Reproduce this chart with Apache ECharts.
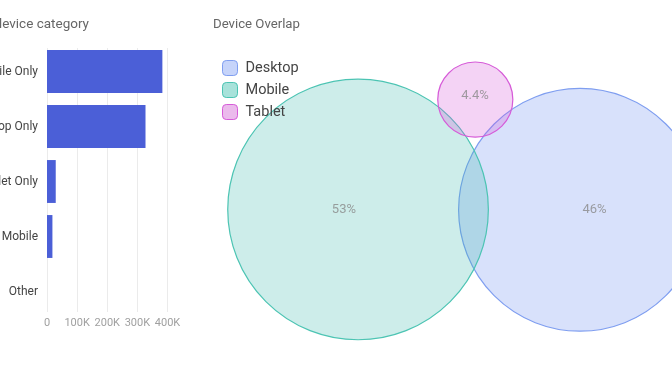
<!DOCTYPE html>
<html>
<head>
<meta charset="utf-8">
<script src="https://cdn.jsdelivr.net/npm/echarts@6/dist/echarts.min.js"></script>
<style>
html,body{margin:0;padding:0;background:#fff;}
#chart{width:672px;height:372px;}
</style>
</head>
<body>
<div id="chart"></div>
<script>
// ---- Bar chart data ----
const barTitle = 'Users by device category';
const barCategories = ['Mobile Only', 'Desktop Only', 'Tablet Only', 'Desktop + Mobile', 'Other'];
const barValues = [383000, 327000, 29000, 18000, 0];
const barTicks = [0, 100000, 200000, 300000, 400000];

// ---- Venn data ----
const vennTitle = 'Device Overlap';
const vennSets = ['Desktop', 'Mobile', 'Tablet'];
const vennPct = [46, 53, 4.4];
const vennCx = [21.23, 8.83, 15.38];
const vennCy = [9.06, 9.08, 15.22];
const vennLabelX = [22.04, 8.04, 15.36];
const vennLabelY = [9.05, 9.05, 15.42];
const vennColors = ['#6389ef', '#37b7ab', '#d44fd6'];
const vennStroke = ['#7f9ef0', '#4cc4b3', '#d65bd8'];
const vennSwatch = ['#c6d4fa', '#a8e2da', '#ebbaec'];

const chart = echarts.init(document.getElementById('chart'));
const font = 'Roboto, "Noto Sans", sans-serif';

const vennSeries = vennSets.map((name, i) => {
  const hex = vennColors[i];
  const rr = parseInt(hex.slice(1, 3), 16), gg = parseInt(hex.slice(3, 5), 16), bb = parseInt(hex.slice(5, 7), 16);
  const fill = 'rgba(' + rr + ',' + gg + ',' + bb + ',0.25)';
  return {
    type: 'custom',
    name: name,
    xAxisIndex: 2, yAxisIndex: 2,
    z: 2 + i,
    itemStyle: { color: vennColors[i] },
    data: [[vennCx[i], vennCy[i], Math.sqrt(vennPct[i])]],
    renderItem: function (params, api) {
      const c = api.coord([api.value(0), api.value(1)]);
      const r = api.size([api.value(2), 0])[0];
      return {
        type: 'circle',
        shape: { cx: c[0], cy: c[1], r: r },
        style: { fill: fill, stroke: vennStroke[i], lineWidth: 1.2 }
      };
    }
  };
});

const labelSeries = {
  type: 'scatter',
  xAxisIndex: 2, yAxisIndex: 2,
  symbolSize: 0,
  z: 10,
  silent: true,
  data: vennSets.map((n, i) => [vennLabelX[i], vennLabelY[i], vennPct[i]]),
  label: {
    show: true, position: 'inside',
    formatter: p => p.value[2] + '%',
    color: '#8a8a8a', fontSize: 13, fontFamily: font
  }
};

const option = {
  animation: false,
  textStyle: { fontFamily: font },
  graphic: [
    { type: 'text', x: 89, y: 25, style: { text: barTitle, textAlign: 'right', textVerticalAlign: 'middle', fontSize: 13.5, fill: '#666', fontFamily: font } },
    { type: 'text', x: 213, y: 25, style: { text: vennTitle, textAlign: 'left', textVerticalAlign: 'middle', fontSize: 13.2, fill: '#666', fontFamily: font } }
  ],
  legend: {
    orient: 'vertical', left: 222, top: 60, padding: 0,
    itemWidth: 15, itemHeight: 15, itemGap: 6,
    icon: 'roundRect',
    textStyle: { fontSize: 14.5, color: '#444', fontFamily: font, padding: [0, 0, 0, 3] },
    data: vennSets.map((n, i) => ({ name: n, itemStyle: { color: vennSwatch[i], borderColor: vennStroke[i], borderWidth: 1 } }))
  },
  grid: [
    { left: 47, top: 44, width: 120.5, height: 275, containLabel: false, outerBoundsMode: 'none' },
    { left: 47, top: 48, width: 120.5, height: 264, containLabel: false, outerBoundsMode: 'none' },
    { left: 200, top: 0, width: 472, height: 372, containLabel: false, outerBoundsMode: 'none' }
  ],
  xAxis: [
    { gridIndex: 0, type: 'value', min: barTicks[0], max: barTicks[barTicks.length - 1], interval: 100000,
      axisLabel: { show: false }, splitLine: { show: false }, axisLine: { show: false }, axisTick: { show: false } },
    { gridIndex: 1, type: 'value', min: barTicks[0], max: barTicks[barTicks.length - 1], interval: 100000,
      axisLine: { show: false }, axisTick: { show: false },
      splitLine: { show: true, lineStyle: { color: '#ebebeb', width: 1 } },
      axisLabel: { margin: 6, color: '#a0a0a0', fontSize: 11, fontFamily: font, hideOverlap: false,
        formatter: v => v === 0 ? '0' : (v / 1000) + 'K' } },
    { gridIndex: 2, type: 'value', min: 0, max: 26.37, show: false }
  ],
  yAxis: [
    { gridIndex: 0, type: 'category', data: barCategories, inverse: true,
      axisLine: { show: false }, axisTick: { show: false },
      axisLabel: { margin: 9, color: '#444', fontSize: 12, fontFamily: font } },
    { gridIndex: 1, type: 'value', show: false },
    { gridIndex: 2, type: 'value', min: 0, max: 20.78, show: false }
  ],
  series: [
    {
      type: 'bar', xAxisIndex: 0, yAxisIndex: 0,
      data: barValues, barCategoryGap: '22%',
      itemStyle: { color: '#4b5fd7' }
    },
    ...vennSeries,
    labelSeries
  ]
};
chart.setOption(option);
</script>
</body>
</html>
